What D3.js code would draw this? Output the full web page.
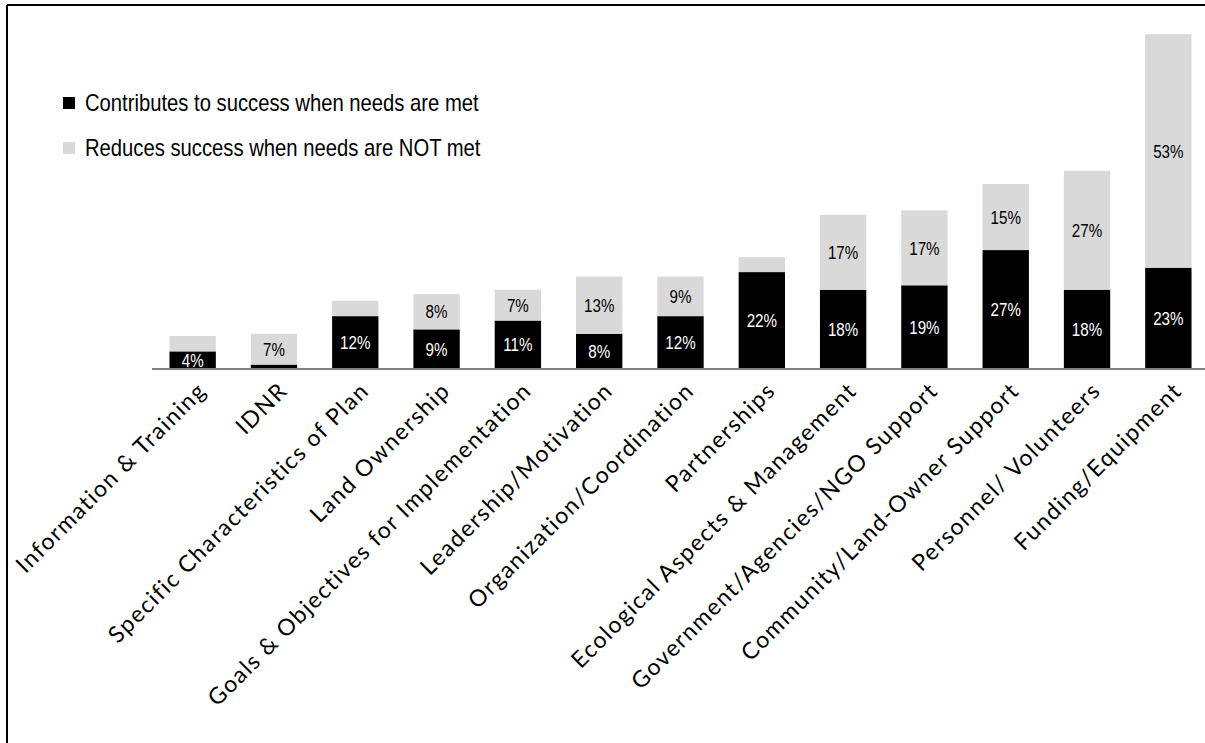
<!DOCTYPE html>
<html>
<head>
<meta charset="utf-8">
<script src="https://cdn.jsdelivr.net/npm/d3@7"></script>
<style>
  body { margin: 0; background: #fff; }
  svg { display: block; }
</style>
</head>
<body>
<div id="chart"></div>
<script>
const categories = [
    "Information & Training", "IDNR", "Specific Characteristics of Plan", "Land Ownership",
    "Goals & Objectives for Implementation", "Leadership/Motivation", "Organization/Coordination",
    "Partnerships", "Ecological Aspects & Management", "Government/Agencies/NGO Support",
    "Community/Land-Owner Support", "Personnel/ Volunteers", "Funding/Equipment"
];
// % contributes to success when needs are met
const metValues = [4, 1, 12, 9, 11, 8, 12, 22, 18, 19, 27, 18, 23];
// % reduces success when needs are NOT met
const notMetValues = [3.5, 7, 3.5, 8, 7, 13, 9, 3.4, 17, 17, 15, 27, 53];
// which segments carry a printed label
const metLabels = ["4%", "", "12%", "9%", "11%", "8%", "12%", "22%", "18%", "19%", "27%", "18%", "23%"];
const notMetLabels = ["", "7%", "", "8%", "7%", "13%", "9%", "", "17%", "17%", "15%", "27%", "53%"];
const seriesNames = ["Contributes to success when needs are met", "Reduces success when needs are NOT met"];

const width = 1205;
const height = 743;
const baseY = 369;
const narrowFont = "'Liberation Sans Narrow', 'Liberation Sans', Arial, sans-serif";

const svg = d3.select("#chart")
    .append("svg")
    .attr("width", width)
    .attr("height", height);

// outer frame (only top and left edges show)
svg.append("line").attr("x1", 7).attr("x2", width).attr("y1", 5).attr("y2", 5)
    .attr("stroke", "#000").attr("stroke-width", 2);
svg.append("line").attr("x1", 7).attr("x2", 7).attr("y1", 5).attr("y2", height)
    .attr("stroke", "#000").attr("stroke-width", 2);

const x = d3.scaleBand()
    .domain(categories)
    .range([152, 1209])
    .paddingInner(0.43)
    .paddingOuter(0.215);

const y = d3.scaleLinear()
    .domain([0, 80])
    .range([baseY, baseY - 80 * 4.405]);

const rows = categories.map((c, i) => ({
    cat: c, met: metValues[i], notMet: notMetValues[i],
    metLabel: metLabels[i], notMetLabel: notMetLabels[i]
}));

const stack = d3.stack().keys(["met", "notMet"])(rows);
const fills = { met: "#000000", notMet: "#d9d9d9" };
const textFill = { met: "#ffffff", notMet: "#000000" };

const g = svg.append("g");

stack.forEach(layer => {
    g.append("g")
        .selectAll("rect")
        .data(layer)
        .join("rect")
        .attr("x", d => x(d.data.cat))
        .attr("y", d => y(d[1]))
        .attr("width", x.bandwidth())
        .attr("height", d => y(d[0]) - y(d[1]))
        .attr("fill", fills[layer.key]);

    // condensed look: squeeze the text horizontally
    g.append("g")
        .selectAll("text")
        .data(layer.filter(d => d.data[layer.key + "Label"]))
        .join("text")
        .attr("transform", d => `translate(${x(d.data.cat) + x.bandwidth() / 2},${(y(d[0]) + y(d[1])) / 2}) scale(0.82,1)`)
        .attr("dy", "0.36em")
        .attr("text-anchor", "middle")
        .attr("font-family", narrowFont)
        .attr("font-size", 18.5)
        .attr("fill", textFill[layer.key])
        .text(d => d.data[layer.key + "Label"]);
});

// baseline axis
const xAxis = svg.append("g")
    .attr("transform", `translate(0,${baseY})`)
    .call(d3.axisBottom(x).tickSize(0).tickFormat(""));
xAxis.select(".domain").attr("stroke", "#808080").attr("stroke-width", 2)
    .attr("d", `M152,0H${width}`);

// rotated category labels
svg.append("g")
    .selectAll("text")
    .data(categories)
    .join("text")
    .attr("transform", d => `translate(${x(d) + x.bandwidth() / 2 + 15},${baseY + 23}) rotate(-45)`)
    .attr("text-anchor", "end")
    .attr("font-family", "Lato, 'Open Sans', sans-serif")
    .attr("font-size", 23)
    .attr("letter-spacing", 1.5)
    .attr("fill", "#000")
    .text(d => d);

// legend
const legend = svg.append("g");
[["met", 103], ["notMet", 148]].forEach(([k, ly], i) => {
    legend.append("rect")
        .attr("x", 63).attr("y", ly - 6)
        .attr("width", 12).attr("height", 12)
        .attr("fill", fills[k]);
    legend.append("text")
        .attr("transform", `translate(85,${ly}) scale(0.88,1)`)
        .attr("dy", "0.35em")
        .attr("font-family", narrowFont)
        .attr("font-size", 23)
        .attr("fill", "#000")
        .text(seriesNames[i]);
});
</script>
</body>
</html>
